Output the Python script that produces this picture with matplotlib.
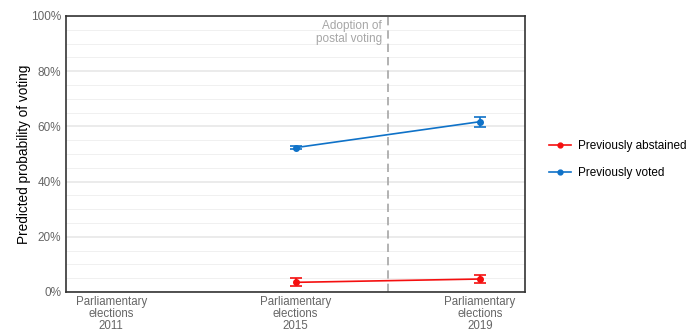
import numpy as np
import matplotlib.pyplot as plt
from matplotlib.lines import Line2D
from matplotlib.ticker import PercentFormatter, MultipleLocator

categories = ["Parliamentary\nelections\n2011", "Parliamentary\nelections\n2015", "Parliamentary\nelections\n2019"]
groups = ["Previously abstained", "Previously voted"]
colors = ["#f50f0f", "#0f72c8"]
# estimates and half-widths of the confidence intervals (for 2015 and 2019)
abstained = [0.035, 0.047]
abstained_err = [0.015, 0.013]
voted = [0.523, 0.617]
voted_err = [0.006, 0.018]

plt.rcParams['font.family'] = ['Liberation Sans', 'DejaVu Sans']

fig = plt.figure(figsize=(6.9, 3.31), dpi=100)
ax = fig.add_axes([66/690, 1 - 292/331, (525-66)/690, (292-16)/331])

x = np.arange(len(categories))
handles = []
for vals, errs, col, lab in [(abstained, abstained_err, colors[0], groups[0]),
                             (voted, voted_err, colors[1], groups[1])]:
    ax.errorbar(x[1:], vals, yerr=errs, color=col, marker='o', markersize=4,
                linewidth=1.2, capsize=4, elinewidth=1.2, capthick=1.2, zorder=3)
    handles.append(Line2D([], [], color=col, marker='o', markersize=3.5, linewidth=1.2, label=lab))

ax.axvline(1.5, color="#a6a6a6", linestyle=(0, (5, 3)), linewidth=1.2, zorder=2)
ax.text(1.47, 0.985, "Adoption of\npostal voting", ha='right', va='top',
        color="#a6a6a6", fontsize=8.5, linespacing=1.1)

ax.set_xlim(-0.245, 2.245)
ax.set_ylim(0, 1)
ax.set_xticks(x)
ax.set_xticklabels(categories, color="#666666", fontsize=8.3, linespacing=1.0)
ax.yaxis.set_major_locator(MultipleLocator(0.2))
ax.yaxis.set_minor_locator(MultipleLocator(0.05))
ax.yaxis.set_major_formatter(PercentFormatter(1.0, decimals=0))
ax.tick_params(axis='y', labelcolor="#666666", labelsize=8.5, length=0, which='both')
ax.tick_params(axis='x', length=0, pad=3)
ax.grid(axis='y', which='major', color="#e6e6e6", linewidth=1.1)
ax.grid(axis='y', which='minor', color="#f0f0f0", linewidth=0.7)
ax.set_axisbelow(True)
for s in ax.spines.values():
    s.set_color("#333333")
    s.set_linewidth(1.2)
ax.set_ylabel("Predicted probability of voting", fontsize=9.8, labelpad=0)

ax.legend(handles=handles, loc='center left', bbox_to_anchor=(1.03, 0.48), frameon=False,
          fontsize=8.5, handlelength=1.8, labelspacing=1.25, handletextpad=0.6)

fig.savefig("out.png", dpi=100)
